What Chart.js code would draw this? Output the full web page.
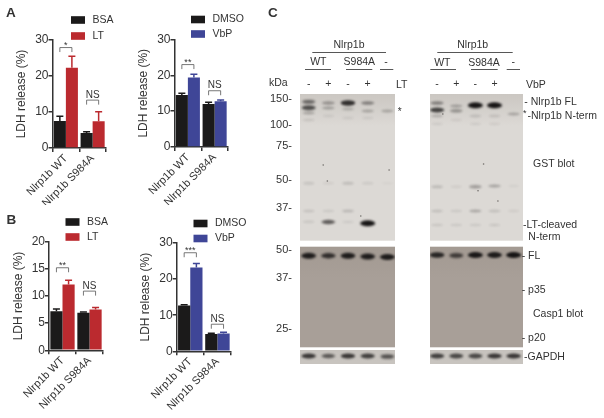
<!DOCTYPE html>
<html lang="en">
<head>
  <meta charset="UTF-8">
  <title>Nlrp1b LDH release and blots</title>
  <script src="https://cdn.jsdelivr.net/npm/chart.js"></script>
  <style>
    html, body { margin: 0; background: #fff; width: 604px; height: 418px; overflow: hidden; }
    canvas { position: absolute; }
  </style>
</head>
<body>
<canvas id="panelA1" width="130" height="205" style="left:0;top:0"></canvas>
<canvas id="panelA2" width="130" height="205" style="left:130px;top:0"></canvas>
<canvas id="panelB1" width="130" height="213" style="left:0;top:205px"></canvas>
<canvas id="panelB2" width="130" height="213" style="left:130px;top:205px"></canvas>
<canvas id="blotLeft" width="160" height="418" style="left:265px;top:0"></canvas>
<canvas id="blotRight" width="179" height="418" style="left:425px;top:0"></canvas>

<script>
  // Data
  const categories = ['Nlrp1b WT', 'Nlrp1b S984A'];

  const a1Bsa = [7.5, 4.2];
  const a1Lt = [22.3, 7.4];
  const a1BsaTop = [8.8, 4.5];
  const a1LtTop = [25.5, 10.1];
  const a1Sig = ['*', 'NS'];
  const a1SigLevel = [27.9, 13.3];

  const a2Dmso = [14.5, 12];
  const a2Vbp = [19.4, 12.8];
  const a2DmsoTop = [15, 12.5];
  const a2VbpTop = [20.3, 13.1];
  const a2Sig = ['**', 'NS'];
  const a2SigLevel = [23, 15.7];

  const b1Bsa = [7.2, 6.9];
  const b1Lt = [12.1, 7.5];
  const b1BsaTop = [7.6, 7.05];
  const b1LtTop = [12.9, 7.9];
  const b1Sig = ['**', 'NS'];
  const b1SigLevel = [15.2, 10.9];

  const b2Dmso = [12.7, 4.8];
  const b2Vbp = [23.2, 4.9];
  const b2DmsoTop = [12.9, 5];
  const b2VbpTop = [24.3, 5.3];
  const b2Sig = ['***', 'NS'];
  const b2SigLevel = [27.3, 7.5];

  // Blots: [lane, gel position, density]
  const markerLabels = ['150-', '100-', '75-', '50-', '37-', '50-', '37-', '25-'];
  const markerPos = [4.7, 31, 52, 86, 113.7, 156, 184, 235];
  const laneSigns = ['-', '+', '-', '+', '-'];

  const gstLeft = [
    [1, 7.7, 0.55], [1, 13.7, 0.7], [1, 19, 0.25], [1, 26, 0.1], [1, 89.3, 0.13], [1, 117, 0.12], [1, 127.7, 0.1],
    [2, 9, 0.32], [2, 14, 0.28], [2, 22, 0.08], [2, 89.3, 0.07], [2, 117, 0.09], [2, 128, 0.62],
    [3, 9, 0.85], [3, 15, 0.2], [3, 24, 0.08], [3, 89.3, 0.17], [3, 117, 0.18], [3, 128, 0.08],
    [4, 9, 0.42], [4, 17, 0.25], [4, 24, 0.08], [4, 89.3, 0.09], [4, 129.3, 1],
    [5, 17, 0.25], [5, 89.3, 0.04]
  ];
  const gstRight = [
    [1, 9, 0.42], [1, 16, 0.75], [1, 22, 0.2], [1, 30, 0.08], [1, 92.7, 0.18], [1, 117, 0.14], [1, 131, 0.1],
    [2, 12, 0.28], [2, 16.7, 0.35], [2, 26, 0.07], [2, 92.7, 0.07], [2, 117, 0.09], [2, 131, 0.09],
    [3, 11.3, 1], [3, 22, 0.14], [3, 30, 0.08], [3, 92.7, 0.32], [3, 117, 0.26], [3, 131, 0.09],
    [4, 11.3, 1], [4, 22, 0.12], [4, 30, 0.07], [4, 92, 0.28], [4, 117, 0.14], [4, 131, 0.11],
    [5, 20, 0.25], [5, 92, 0.05], [5, 117, 0.07]
  ];
  const caspLeft = [[1, 161.7, 0.95], [2, 161.7, 0.82], [3, 161.7, 0.95], [4, 162.5, 0.95], [5, 163, 0.95]];
  const caspRight = [[1, 161, 0.88], [2, 161.5, 0.72], [3, 161, 0.98], [4, 161, 0.95], [5, 161, 1]];
  const gapdhLeft = [[1, 262, 0.8], [2, 262, 0.6], [3, 262, 0.8], [4, 262, 0.75], [5, 262.5, 0.65]];
  const gapdhRight = [[1, 262, 0.75], [2, 262, 0.7], [3, 262, 0.7], [4, 262, 0.8], [5, 262, 0.8]];
  const specksLeft = [[1.74, 71], [1.95, 87], [5.09, 76], [3.65, 122]];
  const specksRight = [[3.43, 70], [1.3, 20], [3.14, 96.7], [4.18, 107]];

  const BLACK = '#1b1a1a';
  const RED = '#bb2a2f';
  const BLUE = '#3f4697';
  const INK = '#333333';
  const FONT = '"Liberation Sans", Arial, sans-serif';

  function drawText(ctx, text, x, y, size, align, weight) {
    ctx.fillStyle = INK;
    ctx.font = (weight || 'normal') + ' ' + size + 'px ' + FONT;
    ctx.textAlign = align || 'left';
    ctx.textBaseline = 'middle';
    ctx.fillText(text, x, y);
  }

  // Error bars, significance brackets and the stacked legend for one bar panel
  function barExtras(cfg) {
    return {
      id: 'barExtras',
      afterDatasetsDraw(chart) {
        const ctx = chart.ctx;
        const xs = chart.scales.x;
        const ys = chart.scales.y;
        ctx.save();

        chart.data.datasets.forEach((ds, i) => {
          const meta = chart.getDatasetMeta(i);
          ctx.strokeStyle = ds.backgroundColor;
          ctx.lineWidth = 1.5;
          meta.data.forEach((bar, j) => {
            const top = ys.getPixelForValue(ds.errTop[j]);
            ctx.beginPath();
            ctx.moveTo(bar.x, bar.y);
            ctx.lineTo(bar.x, top);
            ctx.moveTo(bar.x - 3.5, top);
            ctx.lineTo(bar.x + 3.5, top);
            ctx.stroke();
          });
        });

        cfg.sig.forEach((label, j) => {
          const left = chart.getDatasetMeta(0).data[j].x;
          const right = chart.getDatasetMeta(1).data[j].x;
          const y = ys.getPixelForValue(cfg.sigLevel[j]);
          ctx.strokeStyle = '#555';
          ctx.lineWidth = 0.8;
          ctx.beginPath();
          ctx.moveTo(left, y + 4.5);
          ctx.lineTo(left, y);
          ctx.lineTo(right, y);
          ctx.lineTo(right, y + 4.5);
          ctx.stroke();
          const mid = xs.getPixelForValue(j);
          if (label === 'NS') drawText(ctx, label, mid, y - 5, 10, 'center');
          else drawText(ctx, label, mid, y - 2, 9, 'center');
        });

        chart.data.datasets.forEach((ds, i) => {
          const y = cfg.legendY[i];
          ctx.fillStyle = ds.backgroundColor;
          ctx.fillRect(cfg.legendX, y - 3.8, 14, 7.6);
          drawText(ctx, ds.label, cfg.legendX + 21.5, y, 10.5);
        });

        if (cfg.letter) drawText(ctx, cfg.letter[0], cfg.letter[1], cfg.letter[2], 13.5, 'left', 'bold');
        ctx.restore();
      }
    };
  }

  function makeBarChart(id, cfg) {
    const canvas = document.getElementById(id);
    return new Chart(canvas, {
      type: 'bar',
      data: {
        labels: categories,
        datasets: cfg.series.map(s => ({
          label: s.label,
          data: s.values,
          errTop: s.top,
          backgroundColor: s.color,
          categoryPercentage: cfg.catPct,
          barPercentage: 1
        }))
      },
      options: {
        responsive: false,
        animation: false,
        devicePixelRatio: 1,
        layout: { padding: { left: cfg.titleX, top: cfg.top, right: canvas.width - cfg.right, bottom: 0 } },
        plugins: { legend: { display: false }, tooltip: { enabled: false } },
        scales: {
          x: {
            afterFit(scale) { scale.height = canvas.height - cfg.bottom; },
            border: { color: INK, width: 1.5 },
            grid: { drawOnChartArea: false, color: INK, lineWidth: 1.5, tickLength: 4 },
            ticks: { color: INK, font: { family: FONT, size: 11 }, minRotation: 45, maxRotation: 45, padding: 0, autoSkip: false }
          },
          y: {
            min: 0,
            max: cfg.max,
            afterFit(scale) { scale.width = cfg.left - cfg.titleX; },
            border: { color: INK, width: 1.5 },
            grid: { drawOnChartArea: false, color: INK, lineWidth: 1.5, tickLength: 4 },
            ticks: { color: INK, stepSize: cfg.step, font: { family: FONT, size: 12 }, padding: 0 },
            title: { display: true, text: 'LDH release (%)', color: INK, font: { family: FONT, size: 12 }, padding: 0 }
          }
        }
      },
      plugins: [barExtras(cfg)]
    });
  }

  makeBarChart('panelA1', {
    left: 52.5, right: 106, top: 40, bottom: 148, max: 30, step: 10, catPct: 0.9, titleX: 14,
    series: [
      { label: 'BSA', values: a1Bsa, top: a1BsaTop, color: BLACK },
      { label: 'LT', values: a1Lt, top: a1LtTop, color: RED }
    ],
    sig: a1Sig, sigLevel: a1SigLevel, legendX: 71, legendY: [20, 36], letter: ['A', 6, 13]
  });
  makeBarChart('panelA2', {
    left: 44.5, right: 98, top: 39.5, bottom: 147, max: 30, step: 10, catPct: 0.9, titleX: 6,
    series: [
      { label: 'DMSO', values: a2Dmso, top: a2DmsoTop, color: BLACK },
      { label: 'VbP', values: a2Vbp, top: a2VbpTop, color: BLUE }
    ],
    sig: a2Sig, sigLevel: a2SigLevel, legendX: 61, legendY: [19.5, 34]
  });
  makeBarChart('panelB1', {
    left: 49, right: 103, top: 36.7, bottom: 145.3, max: 20, step: 5, catPct: 0.9, titleX: 11,
    series: [
      { label: 'BSA', values: b1Bsa, top: b1BsaTop, color: BLACK },
      { label: 'LT', values: b1Lt, top: b1LtTop, color: RED }
    ],
    sig: b1Sig, sigLevel: b1SigLevel, legendX: 65.5, legendY: [17, 32], letter: ['B', 6.5, 15]
  });
  makeBarChart('panelB2', {
    left: 46.7, right: 101, top: 38, bottom: 146.3, max: 30, step: 10, catPct: 0.9, titleX: 8,
    series: [
      { label: 'DMSO', values: b2Dmso, top: b2DmsoTop, color: BLACK },
      { label: 'VbP', values: b2Vbp, top: b2VbpTop, color: BLUE }
    ],
    sig: b2Sig, sigLevel: b2SigLevel, legendX: 63.5, legendY: [18.5, 33.5]
  });

  // Soft band sprite, used as the point style of the blot scatter points
  function bandSprite(density) {
    const c = document.createElement('canvas');
    c.width = 28;
    c.height = 18;
    const g = c.getContext('2d');
    g.filter = 'blur(1.2px)';
    g.fillStyle = 'rgba(22,20,20,' + density + ')';
    g.beginPath();
    g.ellipse(14, 9, 5.5 + 2 * density, 1 + 2 * density, 0, 0, Math.PI * 2);
    g.fill();
    return c;
  }

  function blotPanels(chart) {
    const ctx = chart.ctx;
    const ys = chart.scales.y;
    const area = chart.chartArea;
    const bands = [
      [0, 146.7, '#dcd9d5', '#cbc7c2'],
      [152.7, 253.3, '#a89f98', '#a39a92'],
      [256, 270, '#cbc7c2', '#c6c2bd']
    ];
    ctx.save();
    bands.forEach(b => {
      const top = ys.getPixelForValue(b[0]);
      const bottom = ys.getPixelForValue(b[1]);
      const grad = ctx.createLinearGradient(0, top, 0, top + 32);
      grad.addColorStop(0, b[3]);
      grad.addColorStop(1, b[2]);
      ctx.fillStyle = grad;
      ctx.fillRect(area.left, top, area.right - area.left, bottom - top);
    });
    ctx.restore();
  }

  function headerLine(ctx, x1, x2, y) {
    ctx.strokeStyle = '#444';
    ctx.lineWidth = 0.9;
    ctx.beginPath();
    ctx.moveTo(x1, y);
    ctx.lineTo(x2, y);
    ctx.stroke();
  }

  function makeBlot(id, cfg) {
    const canvas = document.getElementById(id);
    const rows = cfg.bands;
    return new Chart(canvas, {
      type: 'scatter',
      data: {
        datasets: [
          {
            data: rows.map(r => ({ x: r[0], y: r[1] })),
            pointStyle: rows.map(r => bandSprite(r[2])),
            pointRadius: 1,
            clip: true
          },
          {
            data: cfg.specks.map(r => ({ x: r[0], y: r[1] })),
            pointRadius: 0.8,
            borderWidth: 0,
            backgroundColor: '#6d6a67'
          }
        ]
      },
      options: {
        responsive: false,
        animation: false,
        devicePixelRatio: 1,
        layout: { padding: { left: 0, top: 94, right: canvas.width - cfg.right, bottom: 54 } },
        plugins: { legend: { display: false }, tooltip: { enabled: false } },
        scales: {
          x: { display: false, type: 'linear', min: cfg.laneMin, max: cfg.laneMax },
          y: {
            type: 'linear',
            reverse: true,
            min: 0,
            max: 270,
            afterFit(scale) { scale.width = cfg.left; },
            afterBuildTicks(scale) { scale.ticks = markerPos.map(v => ({ value: v })); },
            border: { display: false },
            grid: { display: false },
            ticks: {
              display: cfg.showMarkers,
              autoSkip: false,
              color: INK,
              padding: 0,
              font: { family: FONT, size: 11 },
              callback: value => markerLabels[markerPos.indexOf(value)]
            }
          }
        }
      },
      plugins: [{
        id: 'blotExtras',
        beforeDatasetsDraw: blotPanels,
        afterDatasetsDraw(chart) {
          const ctx = chart.ctx;
          const xs = chart.scales.x;
          ctx.save();
          laneSigns.slice(0, 4).forEach((s, i) => {
            drawText(ctx, s, xs.getPixelForValue(i + 1), 84.5, 10.5, 'center');
          });
          cfg.draw(ctx);
          ctx.restore();
        }
      }]
    });
  }

  makeBlot('blotLeft', {
    left: 35, right: 130, laneMin: 0.56, laneMax: 5.39, showMarkers: true,
    bands: gstLeft.concat(caspLeft, gapdhLeft),
    specks: specksLeft,
    draw(ctx) {
      drawText(ctx, 'C', 3, 13, 13.5, 'left', 'bold');
      drawText(ctx, 'Nlrp1b', 84, 45, 10.5, 'center');
      headerLine(ctx, 47.3, 121, 52.5);
      drawText(ctx, 'WT', 53.3, 62.5, 10.5, 'center');
      drawText(ctx, 'S984A', 94.3, 62.5, 10.5, 'center');
      drawText(ctx, '-', 121, 62, 10.5, 'center');
      headerLine(ctx, 40, 66, 69.5);
      headerLine(ctx, 81, 107.3, 69.5);
      headerLine(ctx, 115, 128.3, 69.5);
      drawText(ctx, 'kDa', 4, 83, 10.5);
      drawText(ctx, 'LT', 136.7, 85, 10.5, 'center');
      drawText(ctx, '*', 134.7, 112, 10, 'center');
    }
  });

  makeBlot('blotRight', {
    left: 3.5, right: 98, laneMin: 0.63, laneMax: 5.49, showMarkers: false,
    bands: gstRight.concat(caspRight, gapdhRight),
    specks: specksRight,
    draw(ctx) {
      drawText(ctx, 'Nlrp1b', 47.7, 45, 10.5, 'center');
      headerLine(ctx, 12.3, 87.7, 52.5);
      drawText(ctx, 'WT', 17.3, 63, 10.5, 'center');
      drawText(ctx, 'S984A', 59, 63, 10.5, 'center');
      drawText(ctx, '-', 88.3, 62, 10.5, 'center');
      headerLine(ctx, 5.3, 31, 69.5);
      headerLine(ctx, 46, 72.7, 69.5);
      headerLine(ctx, 81.7, 95, 69.5);
      drawText(ctx, 'VbP', 101, 85, 10.5);
      drawText(ctx, '- Nlrp1b FL', 99.3, 102.3, 10.5);
      drawText(ctx, '*', 98, 114, 9);
      drawText(ctx, '-Nlrp1b N-term', 102.5, 116.3, 10.5);
      drawText(ctx, 'GST blot', 108, 164, 10.5);
      drawText(ctx, '-LT-cleaved', 98, 224.7, 10.5);
      drawText(ctx, 'N-term', 103.3, 237.5, 10.5);
      drawText(ctx, '- FL', 96.7, 256, 10.5);
      drawText(ctx, '- p35', 96.7, 289.7, 10.5);
      drawText(ctx, 'Casp1 blot', 108, 314, 10.5);
      drawText(ctx, '- p20', 96.7, 338, 10.5);
      drawText(ctx, '-GAPDH', 99, 357.3, 10.5);
    }
  });
</script>
</body>
</html>
